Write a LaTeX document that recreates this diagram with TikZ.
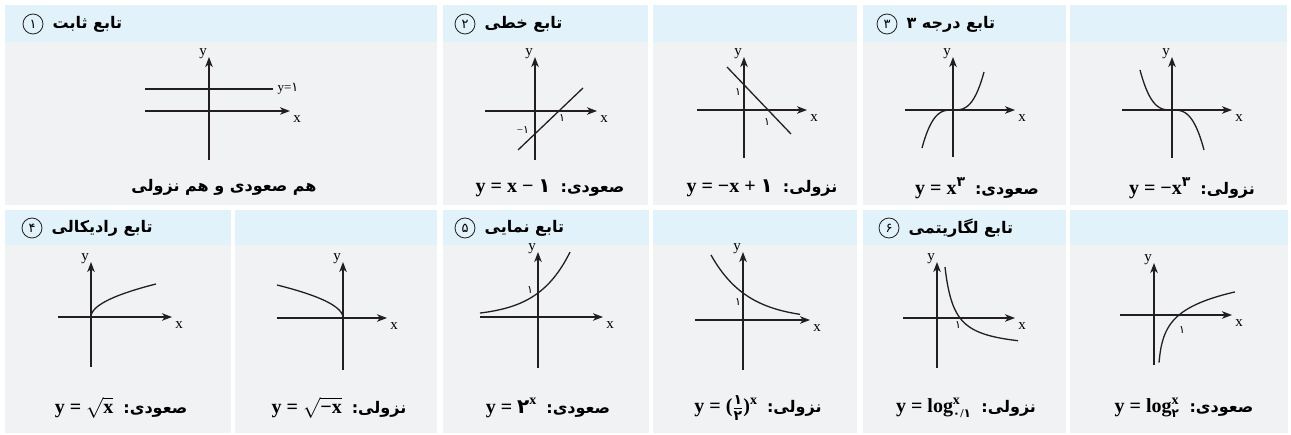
\documentclass[tikz,border=0pt]{standalone}
\usepackage{fontspec}
\setmainfont{Liberation Serif}
\newfontfamily\fafont[Script=Arabic]{DejaVu Sans}
\TeXXeTstate=1
\usetikzlibrary{arrows.meta,positioning}

\definecolor{headblue}{HTML}{E1F2FA}
\definecolor{cellgray}{HTML}{F1F2F4}
\definecolor{ink}{HTML}{231F20}

\newcommand{\fa}[1]{{\fafont #1}}
\newcommand{\lab}[1]{{\fafont\bfseries\fontsize{16}{18}\selectfont\beginR #1\endR}}
\newcommand{\upx}[1]{\raisebox{0.42em}{\fontsize{14}{14}\selectfont #1}}

\begin{document}
\begin{tikzpicture}[
  x=1pt, y=-1pt,
  line join=round,
  axis/.style={draw=ink,line width=1.3pt,-{Stealth[length=10pt,width=7.5pt,inset=2.8pt]}},
  curve/.style={draw=ink,line width=1.3pt},
  head/.style={fill=headblue},
  body/.style={fill=cellgray},
  xlab/.style={inner sep=0pt,xshift=7pt,yshift=-8pt,font=\fontsize{15}{15}\selectfont},
  ylab/.style={inner sep=0pt,xshift=-6pt,yshift=3pt,font=\fontsize{15}{15}\selectfont},
  num/.style={inner sep=0pt,font=\fontsize{11}{11}\selectfont},
  badge/.style={circle,draw=ink,line width=0.8pt,minimum size=20pt,inner sep=0pt,
    font=\fafont\fontsize{13}{13}\selectfont},
  title/.style={inner sep=0pt,font=\fafont\bfseries\fontsize{16}{18}\selectfont},
  formula/.style={inner sep=0pt,font=\bfseries\fontsize{20}{22}\selectfont}
]
  \useasboundingbox[fill=white] (0,0) rectangle (1291,435);

  % Cell backgrounds.
  \foreach \xa/\xb in {5/437,443/648,653/857,863/1066,1070/1287} {
    \fill[body] (\xa,42) rectangle (\xb,205);
    \fill[head] (\xa,5) rectangle (\xb,42);
  }
  \foreach \xa/\xb in {5/231,235/437,443/649,653/857,863/1066,1070/1288} {
    \fill[body] (\xa,245) rectangle (\xb,433);
    \fill[head] (\xa,210) rectangle (\xb,245);
  }

  % Titles with their numbers.
  \foreach \k/\d/\px/\py/\txt in {
      1/۱/33/24/{تابع ثابت}, 2/۲/465/24/{تابع خطی}, 3/۳/887/24/{تابع درجه ۳},
      4/۴/32/228/{تابع رادیکالی}, 5/۵/465/228/{تابع نمایی}, 6/۶/889/228/{تابع لگاریتمی}} {
    \node[badge] (b\k) at (\px,\py) {\d};
    \node[title,right=9pt of b\k] (t\k) {\beginR\txt\endR};
  }

  % Axes of every graph.
  \foreach \n/\ox/\oy/\xl/\xr/\yb/\yt in {
      a/209/111/-64/81/-49/54, b/535/111/-50/62/-49/54, c/744/110/-47/63/-48/53,
      d/953/110/-48/62/-47/53, e/1172/110/-50/60/-48/53,
      f/91/317/-33/81/-50/55, g/343/318/-66/44/-52/56, h/538/317/-58/65/-51/65,
      i/743/320/-48/67/-50/68, j/937/318/-34/78/-50/56, k/1154/315/-34/78/-50/52} {
    \coordinate (o\n) at (\ox,\oy);
    \begin{scope}[shift={(o\n)},yscale=-1]
      \draw[axis] (\xl,0) -- (\xr,0) node[xlab] (x\n) {x};
      \draw[axis] (0,\yb) -- (0,\yt) node[ylab] (y\n) {y};
    \end{scope}
  }

  % Graphs.
  \begin{scope}[shift={(oa)},yscale=-1]
    \draw[curve] (-64,22) -- (64,22) node[right=4pt,inner sep=0pt,font=\fontsize{13}{13}\selectfont] (la) {y=\fa{۱}};
  \end{scope}
  \begin{scope}[shift={(ob)},yscale=-1]
    \draw[curve] (-17,-39) -- (48,23);
    \node[num] (lb1) at (27,-7) {\fa{۱}};
    \node[num] (lb2) at (-12,-19) {−\fa{۱}};
  \end{scope}
  \begin{scope}[shift={(oc)},yscale=-1]
    \draw[curve] (-17,43) -- (47,-24);
    \node[num] (lc1) at (-6,18) {\fa{۱}};
    \node[num] (lc2) at (23,-12) {\fa{۱}};
  \end{scope}
  \begin{scope}[shift={(od)},yscale=-1]
    \draw[curve] plot[smooth,domain=-31:31,samples=41] (\x,{38*(\x/31)*(\x/31)*(\x/31)});
  \end{scope}
  \begin{scope}[shift={(oe)},yscale=-1]
    \draw[curve] plot[smooth,domain=-32:32,samples=41] (\x,{-40*(\x/32)*(\x/32)*(\x/32)});
  \end{scope}
  \begin{scope}[shift={(of)},yscale=-1]
    \draw[curve] plot[smooth,domain=0:33,samples=40] ({65*(\x/33)*(\x/33)},\x);
  \end{scope}
  \begin{scope}[shift={(og)},yscale=-1]
    \draw[curve] plot[smooth,domain=0:33,samples=40] ({-66*(\x/33)*(\x/33)},\x);
  \end{scope}
  \begin{scope}[shift={(oh)},yscale=-1]
    \draw[curve] plot[smooth,domain=-58:32,samples=40] (\x,{24*exp(0.0311*\x)});
    \node[num] (lh) at (-8,27) {\fa{۱}};
  \end{scope}
  \begin{scope}[shift={(oi)},yscale=-1]
    \draw[curve] plot[smooth,domain=-32:57,samples=40] (\x,{27*exp(-0.02745*\x)});
    \node[num] (li) at (-5,18) {\fa{۱}};
  \end{scope}
  \begin{scope}[shift={(oj)},yscale=-1]
    \draw[curve] plot[smooth,domain=8:81,samples=80] (\x,{791.5/(\x+1.5)-32.3});
    \node[num] (lj) at (21,-7) {\fa{۱}};
  \end{scope}
  \begin{scope}[shift={(ok)},yscale=-1]
    \draw[curve] plot[smooth,domain=5:81,samples=80] (\x,{18*ln((\x-3.5)/21.5)});
    \node[num] (lk) at (28,-15) {\fa{۱}};
  \end{scope}

  % Formulas under the graphs.
  \node[formula] (fa) at (224,187) {\fafont\fontsize{16}{18}\selectfont\beginR هم صعودی و هم نزولی\endR};
  \node[formula] (fb) at (550,188) {y = x − \fa{۱}\hspace{10pt}\lab{صعودی:}};
  \node[formula] (fc) at (762,188) {y = −x + \fa{۱}\hspace{10pt}\lab{نزولی:}};
  \node[formula] (fd) at (977,188) {y = x\upx{\fa{۳}}\hspace{10pt}\lab{صعودی:}};
  \node[formula] (fe) at (1192,188) {y = −x\upx{\fa{۳}}\hspace{10pt}\lab{نزولی:}};
  \node[formula] (ff) at (121,408) {y = $\sqrt{\hbox{x}}$\hspace{10pt}\lab{صعودی:}};
  \node[formula] (fg) at (339,408) {y = $\sqrt{\hbox{−x}}$\hspace{10pt}\lab{نزولی:}};
  \node[formula] (fh) at (548,408) {y = \fa{۲}\upx{x}\hspace{10pt}\lab{صعودی:}};
  \node[formula] (fi) at (758,408) {y = ($\frac{\hbox{\fa{\fontsize{14}{14}\selectfont ۱}}}{\hbox{\fa{\fontsize{14}{14}\selectfont ۲}}}$)\upx{x}\hspace{10pt}\lab{نزولی:}};
  \node[formula] (fj) at (966,408) {y = log$^{\hbox{\fontsize{14}{14}\selectfont x}}_{\hbox{\fontsize{12}{12}\selectfont\fa{۰}/\fa{۱}}}$\hspace{10pt}\lab{نزولی:}};
  \node[formula] (fk) at (1184,408) {y = log$^{\hbox{\fontsize{14}{14}\selectfont x}}_{\hbox{\fontsize{12}{12}\selectfont\fa{۲}}}$\hspace{10pt}\lab{صعودی:}};
\end{tikzpicture}
\end{document}
